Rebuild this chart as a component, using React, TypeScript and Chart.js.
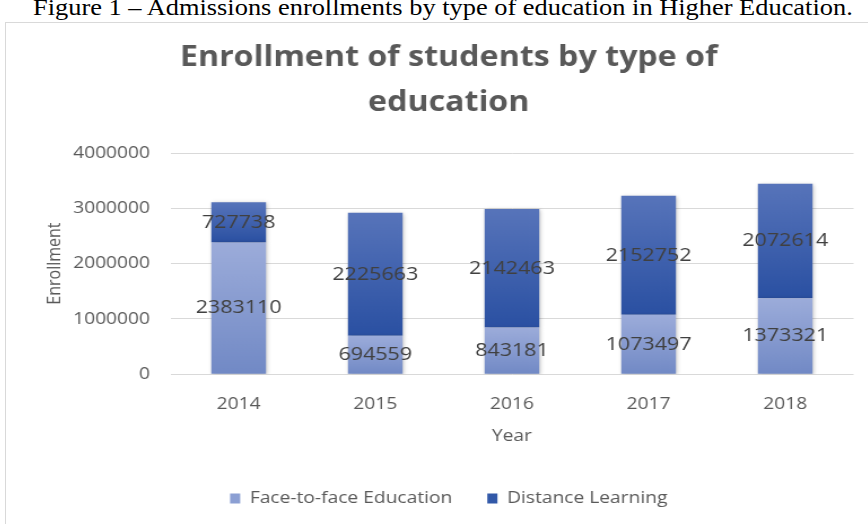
import React, { useEffect, useRef } from 'react';
import { Chart, registerables } from 'chart.js';

Chart.register(...registerables);

const years = ['2014', '2015', '2016', '2017', '2018'];
const faceToFace = [2383110, 694559, 843181, 1073497, 1373321];
const distanceLearning = [727738, 2225663, 2142463, 2152752, 2072614];
const seriesNames = ['Face-to-face Education', 'Distance Learning'];
const chartTitle = ['Enrollment of students by type of', 'education'];
const yAxisTitle = 'Enrollment';
const xAxisTitle = 'Year';
const yMin = 0;
const yMax = 4000000;
const yStep = 1000000;
const caption = 'Figure 1 – Admissions enrollments by type of education in Higher Education.';

const FONT = "'Open Sans', sans-serif";
const FACE_TOP = '#9cacda';
const FACE_BOTTOM = '#7189c5';
const DIST_TOP = '#5774ba';
const DIST_BOTTOM = '#2a50a2';
const FACE_LEGEND = '#8b9fd3';
const DIST_LEGEND = '#3158a8';

// internal drawing size of the canvas; it is displayed horizontally stretched
const CANVAS_W = 781;
const CANVAS_H = 524;
const DISPLAY_W = 882;

function segmentGradient(ctx: any, lowVals: number[] | null, vals: number[], topColor: string, bottomColor: string, fallback: string) {
  const chart = ctx.chart;
  const ys = chart.scales && chart.scales.y;
  if (!ys || ctx.type !== 'data') return fallback;
  const i = ctx.dataIndex;
  const low = lowVals ? lowVals[i] : 0;
  const yTop = ys.getPixelForValue(low + vals[i]);
  const yBot = ys.getPixelForValue(low);
  if (!isFinite(yTop) || !isFinite(yBot) || yTop === yBot) return fallback;
  const g = chart.ctx.createLinearGradient(0, yTop, 0, yBot);
  g.addColorStop(0, topColor);
  g.addColorStop(1, bottomColor);
  return g;
}

const valueLabels = {
  id: 'valueLabels',
  afterDatasetsDraw(chart: any) {
    const ctx = chart.ctx;
    ctx.save();
    ctx.font = `19px ${FONT}`;
    ctx.fillStyle = '#404040';
    ctx.textAlign = 'center';
    ctx.textBaseline = 'middle';
    chart.data.datasets.forEach((ds: any, di: number) => {
      const meta = chart.getDatasetMeta(di);
      meta.data.forEach((el: any, i: number) => {
        const y = (el.y + el.base) / 2;
        ctx.fillText(String(ds.data[i]), el.x, y);
      });
    });
    ctx.restore();
  },
};

const barShadow = {
  id: 'barShadow',
  beforeDatasetsDraw(chart: any) {
    const ctx = chart.ctx;
    ctx.save();
    ctx.shadowColor = 'rgba(0,0,0,0.25)';
    ctx.shadowBlur = 4;
    ctx.shadowOffsetX = 1;
    ctx.shadowOffsetY = 1;
  },
  afterDatasetsDraw(chart: any) {
    chart.ctx.restore();
  },
};

export default function App() {
  const ref = useRef<HTMLCanvasElement>(null);

  useEffect(() => {
    document.body.style.margin = '0';
    document.body.style.overflow = 'hidden';
    const canvas = ref.current;
    if (!canvas) return;
    const chart = new Chart(canvas, {
      type: 'bar',
      data: {
        labels: years,
        datasets: [
          {
            label: seriesNames[0],
            data: faceToFace,
            backgroundColor: (c: any) => segmentGradient(c, null, faceToFace, FACE_TOP, FACE_BOTTOM, FACE_LEGEND),
            borderWidth: 0,
            barPercentage: 0.4,
            categoryPercentage: 1,
          },
          {
            label: seriesNames[1],
            data: distanceLearning,
            backgroundColor: (c: any) => segmentGradient(c, faceToFace, distanceLearning, DIST_TOP, DIST_BOTTOM, DIST_LEGEND),
            borderWidth: 0,
            barPercentage: 0.4,
            categoryPercentage: 1,
          },
        ],
      },
      options: {
        responsive: false,
        animation: false,
        devicePixelRatio: 1,
        layout: { padding: { left: 33.5, right: 30.5, top: 22, bottom: 7 } },
        plugins: {
          title: {
            display: true,
            text: chartTitle,
            color: '#595959',
            font: { family: FONT, size: 28.5, weight: 'bold', lineHeight: 1.579 },
            padding: { top: 13, bottom: 28 },
          },
          legend: {
            position: 'bottom',
            labels: {
              color: '#595959',
              font: { family: FONT, size: 17 },
              boxWidth: 9,
              boxHeight: 10,
              padding: 31,
              generateLabels: (ch: any) =>
                ch.data.datasets.map((ds: any, i: number) => ({
                  text: ds.label,
                  fillStyle: i === 0 ? FACE_LEGEND : DIST_LEGEND,
                  strokeStyle: 'transparent',
                  lineWidth: 0,
                  hidden: false,
                  datasetIndex: i,
                  fontColor: '#595959',
                })),
            },
          },
          tooltip: { enabled: false },
        },
        scales: {
          x: {
            stacked: true,
            grid: { display: false },
            border: { display: false },
            ticks: { color: '#595959', font: { family: FONT, size: 17 }, padding: 12 },
            title: {
              display: true,
              text: xAxisTitle,
              color: '#595959',
              font: { family: FONT, size: 17 },
              padding: { top: -1, bottom: 13 },
            },
          },
          y: {
            stacked: true,
            min: yMin,
            max: yMax,
            grid: { color: '#d9d9d9', lineWidth: 1, drawTicks: false },
            border: { display: false },
            afterFit: (scale: any) => {
              scale.width = 112;
            },
            ticks: {
              stepSize: yStep,
              color: '#595959',
              font: { family: FONT, size: 17 },
              padding: 18,
              callback: (v: any) => String(v),
            },
            title: {
              display: true,
              text: yAxisTitle,
              color: '#595959',
              font: { family: FONT, size: 16 },
              padding: { top: 0, bottom: 0 },
            },
          },
        },
      },
      plugins: [barShadow, valueLabels],
    });
    return () => chart.destroy();
  }, []);

  return (
    <div style={{ position: 'relative', width: 868, height: 524, overflow: 'hidden', background: '#fff' }}>
      <div
        style={{
          position: 'absolute',
          left: 5,
          top: 22,
          width: 900,
          height: 560,
          border: '1px solid #d9d9d9',
          boxSizing: 'border-box',
        }}
      />
      <div
        style={{
          position: 'absolute',
          left: 33,
          top: -5,
          whiteSpace: 'nowrap',
          fontFamily: "'Liberation Serif', 'Times New Roman', serif",
          fontSize: 24,
          lineHeight: '24px',
          color: '#000',
          transformOrigin: 'left top',
          transform: 'scaleX(1.1)',
        }}
      >
        {caption}
      </div>
      <canvas
        ref={ref}
        width={CANVAS_W}
        height={CANVAS_H}
        style={{ position: 'absolute', left: 6, top: 0, width: DISPLAY_W, height: CANVAS_H, display: 'block' }}
      />
    </div>
  );
}
